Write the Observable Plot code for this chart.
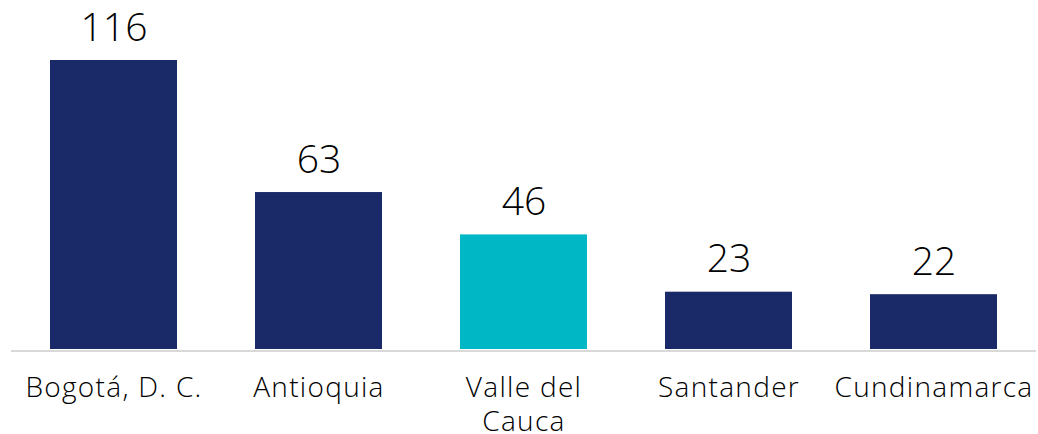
<!DOCTYPE html>
<html>
<head>
<meta charset="utf-8">
<script src="https://cdn.jsdelivr.net/npm/d3@7"></script>
<script src="https://cdn.jsdelivr.net/npm/@observablehq/plot@0.6"></script>
<style>
  html, body { margin: 0; padding: 0; background: #fff; }
  #chart svg { display: block; }
  #chart svg g.cat text { letter-spacing: 1.3px; }
</style>
</head>
<body>
<div id="chart"></div>
<script>
const categories = ["Bogotá, D. C.", "Antioquia", "Valle del Cauca", "Santander", "Cundinamarca"];
const tickLabels = ["Bogotá, D. C.", "Antioquia", "Valle del\nCauca", "Santander", "Cundinamarca"];
const values = [116, 63, 46, 23, 22];
const highlight = "Valle del Cauca";

const data = categories.map((c, i) => ({category: c, value: values[i], label: tickLabels[i]}));
const navy = "#1a2967";
const teal = "#00b8c5";

const chart = Plot.plot({
  width: 1038,
  height: 434,
  marginLeft: 11,
  marginRight: 2,
  marginTop: 60,
  marginBottom: 85,
  style: {fontFamily: "'Open Sans', sans-serif", background: "#fff"},
  x: {domain: categories, paddingInner: 0.38, paddingOuter: 0.19, axis: null},
  y: {domain: [0, d3.max(values)], axis: null},
  marks: [
    Plot.barY(data, {x: "category", y: "value", fill: d => d.category === highlight ? teal : navy}),
    Plot.ruleY([0], {stroke: "#d9d9d9", strokeWidth: 2, dy: 1.5}),
    Plot.text(data, {x: "category", y: "value", text: d => String(d.value), lineAnchor: "bottom", dy: -20, fontSize: 39, fontWeight: 300, fill: "#000"}),
    Plot.text(data, {x: "category", text: "label", frameAnchor: "bottom", lineAnchor: "top", dy: 24, fontSize: 28, fontWeight: 300, lineHeight: 1.2, fill: "#000", className: "cat"})
  ]
});
document.getElementById("chart").appendChild(chart);
</script>
</body>
</html>
